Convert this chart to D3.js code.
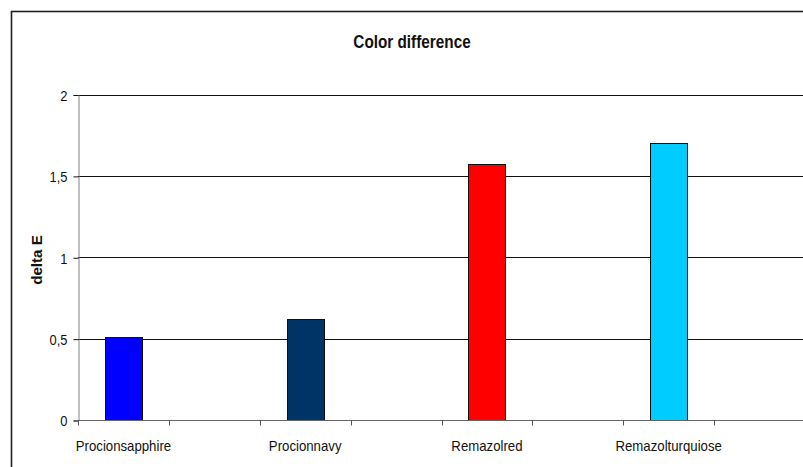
<!DOCTYPE html>
<html><head><meta charset="utf-8">
<script src="https://cdn.jsdelivr.net/npm/d3@7"></script>
<style>body{margin:0;background:#fff}svg{display:block}text{font-family:"Liberation Sans",Arial,sans-serif}</style>
</head><body>
<script>
const categories = ["Procionsapphire","","Procionnavy","","Remazolred","","Remazolturquiose",""];
const values = [0.51, null, 0.62, null, 1.57, null, 1.70, null];
const colors = ["#0000FF", null, "#003366", null, "#FF0000", null, "#00CCFF", null];
const yTicks = [0, 0.5, 1, 1.5, 2];
const yTickLabels = ["0", "0,5", "1", "1,5", "2"];
const title = "Color difference";
const yTitle = "delta E";

const W = 803, H = 467;
const svg = d3.select("body").append("svg").attr("width", W).attr("height", H);
svg.append("rect").attr("width", W).attr("height", H).attr("fill", "#fff");
// outer chart border (cropped at right/bottom)
svg.append("rect").attr("x", 11.5).attr("y", 11.5).attr("width", W + 20).attr("height", H + 20)
  .attr("fill", "none").attr("stroke", "#222").attr("stroke-width", 1.6);

// horizontal condensing helper (reference font renders narrow)
function squeeze(sel, f) {
  sel.each(function() {
    const L = this.getComputedTextLength();
    d3.select(this).attr("textLength", L * f).attr("lengthAdjust", "spacingAndGlyphs");
  });
}

const idx = categories.map((d, i) => i);
const x = d3.scaleBand().domain(idx).range([78, 805]).paddingInner(0).paddingOuter(0);
const y = d3.scaleLinear().domain([0, 2]).range([420, 94.5]);

// gridlines
svg.append("g").selectAll("line").data(yTicks.filter(d => d > 0)).join("line")
  .attr("x1", 78).attr("x2", 805)
  .attr("y1", d => Math.round(y(d)) + 0.5).attr("y2", d => Math.round(y(d)) + 0.5)
  .attr("stroke", "#111").attr("stroke-width", 1);

// bars
const bw = x.bandwidth() * 0.41;
svg.append("g").selectAll("rect").data(idx.filter(i => values[i] != null)).join("rect")
  .attr("x", i => Math.round(x(i) + x.bandwidth() / 2 - bw / 2) + 0.5)
  .attr("y", i => Math.round(y(values[i])) + 0.5)
  .attr("width", Math.round(bw))
  .attr("height", i => Math.round(y(0)) - Math.round(y(values[i])))
  .attr("fill", i => colors[i]).attr("stroke", "#111").attr("stroke-width", 1);

// y axis
const yAxis = d3.axisLeft(y).tickValues(yTicks).tickFormat((d, i) => yTickLabels[i]).tickSize(5).tickPadding(6);
const gy = svg.append("g").attr("transform", "translate(78.5,0.5)").call(yAxis);
gy.select(".domain").attr("stroke", "#808080");
gy.selectAll(".tick line").attr("stroke", "#111");
gy.selectAll("text").attr("font-size", 15).attr("font-family", "Liberation Sans, Arial, sans-serif")
  .attr("fill", "#111").attr("dy", "0.36em").call(squeeze, 0.86);

// x axis
const gx = svg.append("g").attr("transform", "translate(0,420.5)");
gx.append("line").attr("x1", 78).attr("x2", 805).attr("y1", 0).attr("y2", 0).attr("stroke", "#666");
gx.selectAll("line.tk").data(idx).join("line").attr("class", "tk")
  .attr("x1", i => Math.round(x(i)) + 0.5).attr("x2", i => Math.round(x(i)) + 0.5)
  .attr("y1", 0).attr("y2", 5).attr("stroke", "#555");
gx.selectAll("text").data(idx.filter(i => categories[i])).join("text")
  .attr("x", i => x(i) + x.bandwidth() / 2).attr("y", 30)
  .attr("text-anchor", "middle").attr("font-size", 15).attr("fill", "#111")
  .text(i => categories[i]).call(squeeze, 0.88);

// titles
svg.append("text").attr("x", 412).attr("y", 48).attr("text-anchor", "middle")
  .attr("font-size", 18).attr("font-weight", "bold").attr("fill", "#111").text(title).call(squeeze, 0.85);
svg.append("text").attr("transform", "translate(42,260) rotate(-90)").attr("text-anchor", "middle")
  .attr("font-size", 14).attr("font-weight", "bold").attr("fill", "#111").text(yTitle).call(squeeze, 1.08);
</script>
</body></html>
